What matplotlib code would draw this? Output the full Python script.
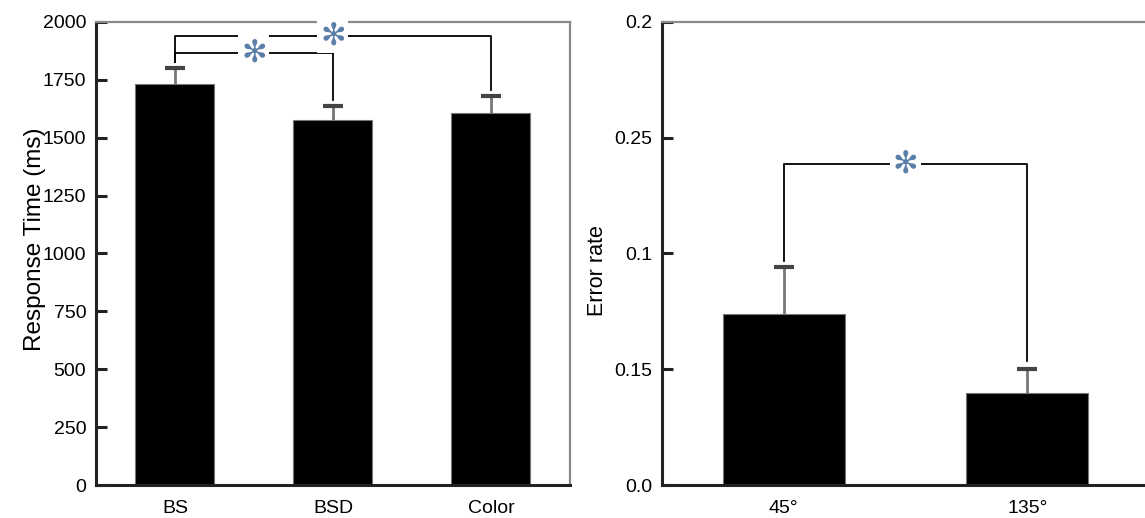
import matplotlib
matplotlib.use('Agg')
import matplotlib.pyplot as plt
import numpy as np

plt.rcParams['font.family'] = ['Liberation Sans', 'DejaVu Sans']

# left panel: response time
rt_labels = ['BS', 'BSD', 'Color']
rt_mean = [1732, 1576, 1605]
rt_err = [68, 60, 75]
rt_ticks = [0, 250, 500, 750, 1000, 1250, 1500, 1750, 2000]

# significance brackets (left): (x0, x1, bar height, leg end at x0, leg end at x1)
rt_sig = [(0, 2, 1940, 1829, 1705), (0, 1, 1867, 1829, 1664)]

# right panel: error rate
er_labels = ['45°', '135°']
er_mean = [0.074, 0.0397]
er_err = [0.020, 0.0103]
er_ticks = [0.0, 0.05, 0.1, 0.15, 0.2]
er_ticklabels = ['0.0', '0.15', '0.1', '0.25', '0.2']
er_sig = [(0, 1, 0.1388, 0.0966, 0.0536)]

star_col = '#5a7ea8'


def style_axes(ax):
	ax.spines['left'].set_color('#222222')
	ax.spines['bottom'].set_color('#222222')
	ax.spines['left'].set_linewidth(2.2)
	ax.spines['bottom'].set_linewidth(2.2)
	ax.spines['top'].set_color('#8a8a8a')
	ax.spines['right'].set_color('#8a8a8a')
	ax.spines['top'].set_linewidth(1.6)
	ax.spines['right'].set_linewidth(1.6)
	ax.tick_params(axis='y', direction='in', length=8, width=2.2, color='#222222',
				   labelsize=14, pad=7)
	ax.tick_params(axis='x', length=0, labelsize=14, pad=11)


def draw_bars(ax, x, mean, err):
	ax.bar(x, mean, width=0.5, color='black', edgecolor='#777777', lw=0.8, zorder=2)
	# upward error bars only
	ax.vlines(x, mean, np.array(mean) + np.array(err), color='#777777', lw=2, zorder=1)
	ax.plot(x, np.array(mean) + np.array(err), ls='none', marker='_', ms=14, mew=3,
			color='#444444', zorder=1)


def draw_sig(ax, sig):
	for x0, x1, h, e0, e1 in sig:
		ax.plot([x0, x0, x1, x1], [e0, h, h, e1], color='black', lw=1.3, zorder=3)
		ax.text((x0 + x1) / 2, h, '✻', color=star_col, fontsize=22, ha='center',
				va='center', zorder=4, family='DejaVu Sans',
				bbox=dict(facecolor='white', edgecolor='none', pad=2))


fig = plt.figure(figsize=(11.45, 5.18), dpi=100)
ax1 = fig.add_axes([0.0838, 0.0637, 0.414, 0.894])
ax2 = fig.add_axes([0.5782, 0.0637, 0.4253, 0.894])

x1 = np.arange(len(rt_labels))
draw_bars(ax1, x1, rt_mean, rt_err)
ax1.set_xlim(-0.5, 2.5)
ax1.set_ylim(0, 2000)
ax1.set_yticks(rt_ticks)
ax1.set_xticks(x1)
ax1.set_xticklabels(rt_labels)
ax1.set_ylabel('Response Time (ms)', fontsize=17.5)
ax1.yaxis.set_label_coords(-0.105, 0.53)
style_axes(ax1)
draw_sig(ax1, rt_sig)

x2 = np.arange(len(er_labels))
draw_bars(ax2, x2, er_mean, er_err)
ax2.set_xlim(-0.5, 1.5)
ax2.set_ylim(0, 0.2)
ax2.set_yticks(er_ticks)
ax2.set_yticklabels(er_ticklabels)
ax2.set_xticks(x2)
ax2.set_xticklabels(er_labels)
ax2.set_ylabel('Error rate', fontsize=15.5)
ax2.yaxis.set_label_coords(-0.11, 0.464)
style_axes(ax2)
draw_sig(ax2, er_sig)

fig.savefig('out.png', dpi=100)
